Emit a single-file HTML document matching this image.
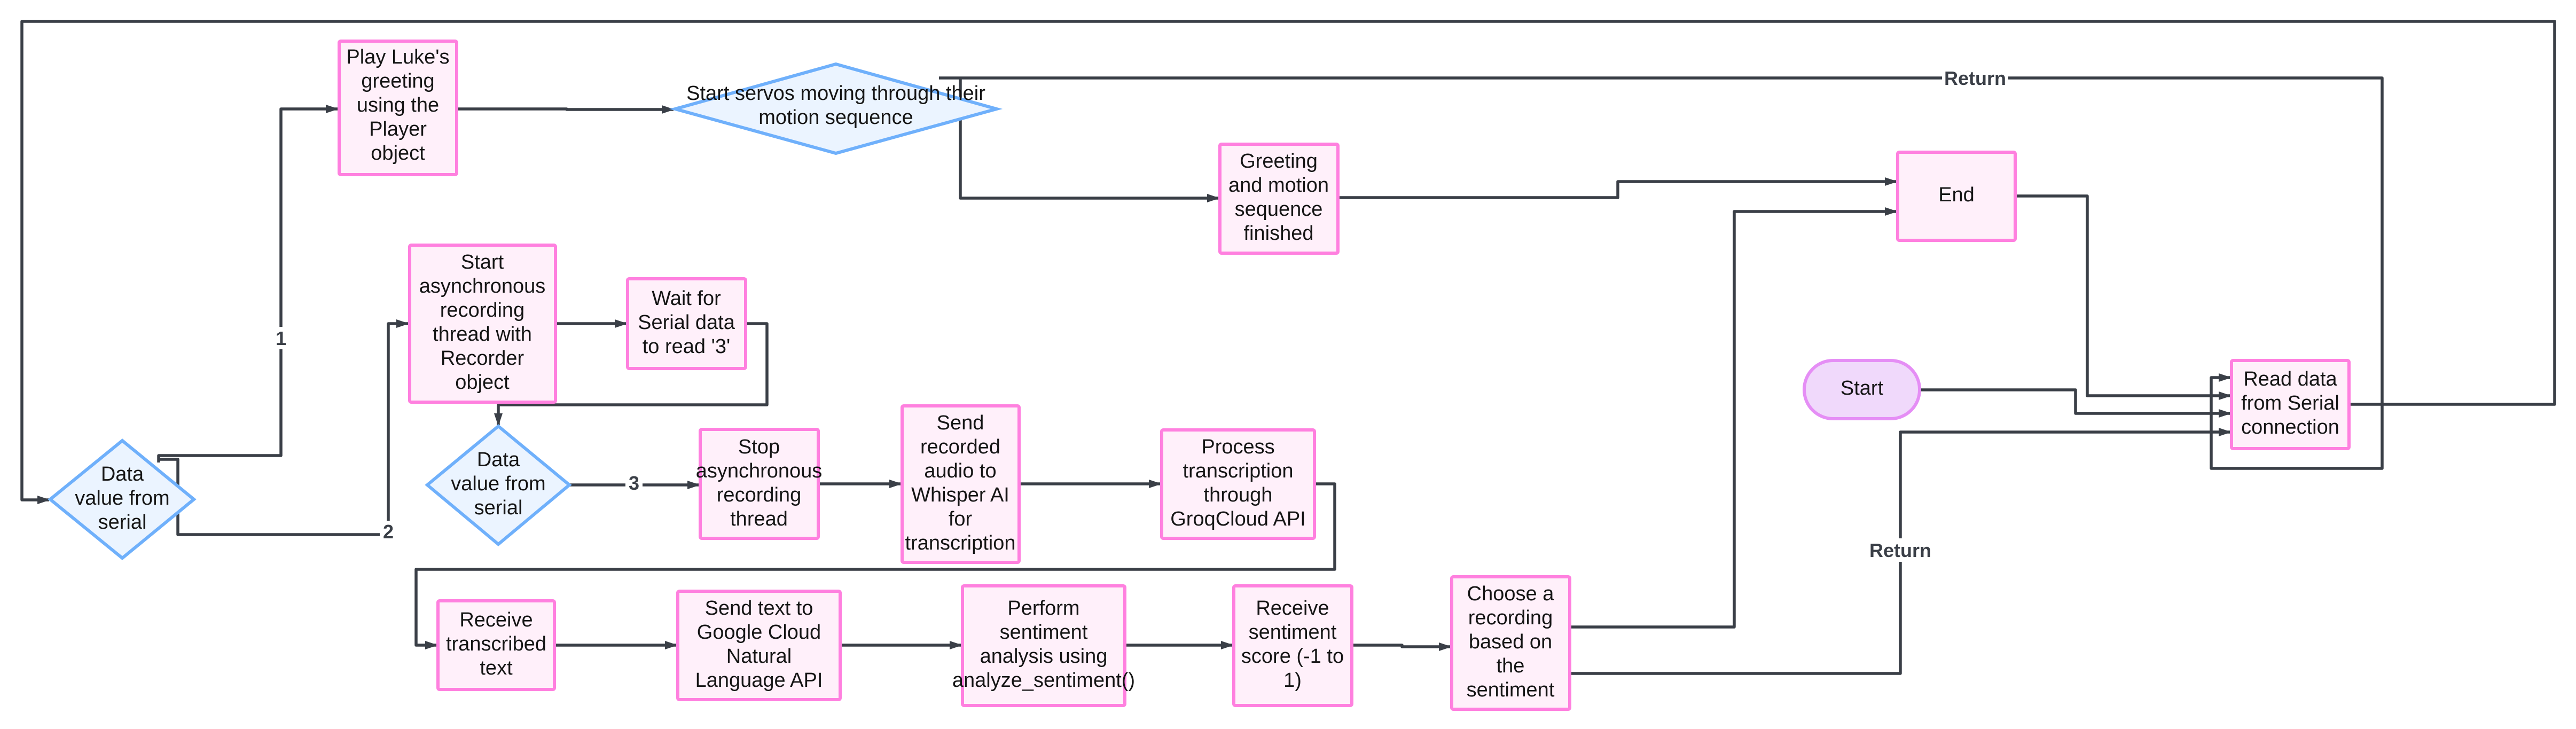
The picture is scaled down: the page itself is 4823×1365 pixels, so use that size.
<!DOCTYPE html>
<html><head><meta charset="utf-8"><style>
html,body{margin:0;padding:0;background:#fff;}
svg{display:block;}
text{font-family:"Liberation Sans",sans-serif;font-size:38px;fill:#151515;text-anchor:middle;transform:translate(0px,-3px);}
.lbl{font-weight:bold;fill:#3a3f47;font-size:36px;transform:none;}
.b{fill:#fff0fa;stroke:#ff80df;stroke-width:6;}
.d{fill:#ebf4ff;stroke:#6fb0fb;stroke-width:6;}
.l{fill:none;stroke:#3a3f47;stroke-width:5.5;stroke-linejoin:round;}
</style></head><body>
<svg width="4823" height="1365" viewBox="0 0 4823 1365" xmlns="http://www.w3.org/2000/svg">
<defs><marker id="a" markerUnits="userSpaceOnUse" markerWidth="24" markerHeight="18" refX="22" refY="8" orient="auto"><path d="M0,0 L24,8 L0,16 z" fill="#3a3f47"/></marker></defs>

<path class="l" d="M4400,757 H4783 V40 H41 V936 H92" marker-end="url(#a)"/>
<path class="l" d="M297,866 V853 H526 V204 H632" marker-end="url(#a)"/>
<path class="l" d="M297,860 H333 V1001 H727 V606 H764" marker-end="url(#a)"/>
<path class="l" d="M855,204 H1061 V205 H1261" marker-end="url(#a)"/>
<path class="l" d="M1758,146 H4460 V877 H4140 V707 H4176" marker-end="url(#a)"/>
<path class="l" d="M1798,148 V371 H2282" marker-end="url(#a)"/>
<path class="l" d="M1040,606 H1173" marker-end="url(#a)"/>
<path class="l" d="M1396,606 H1436 V758 H933 V796" marker-end="url(#a)"/>
<path class="l" d="M1066,908 H1309" marker-end="url(#a)"/>
<path class="l" d="M1532,906 H1687" marker-end="url(#a)"/>
<path class="l" d="M1908,906 H2173" marker-end="url(#a)"/>
<path class="l" d="M2461,906 H2499 V1066 H779 V1208 H818" marker-end="url(#a)"/>
<path class="l" d="M1038,1208 H1267" marker-end="url(#a)"/>
<path class="l" d="M1573,1208 H1800" marker-end="url(#a)"/>
<path class="l" d="M2106,1208 H2308" marker-end="url(#a)"/>
<path class="l" d="M2531,1208 H2625 V1211 H2716" marker-end="url(#a)"/>
<path class="l" d="M2505,370 H3029 V340 H3551" marker-end="url(#a)"/>
<path class="l" d="M2939,1174 H3247 V396 H3551" marker-end="url(#a)"/>
<path class="l" d="M3773,367 H3908 V741 H4176" marker-end="url(#a)"/>
<path class="l" d="M3594,730 H3886 V774 H4176" marker-end="url(#a)"/>
<path class="l" d="M2939,1261 H3558 V809 H4176" marker-end="url(#a)"/>

<rect x="510" y="612" width="32" height="42" fill="#fff"/><text class="lbl" x="526" y="646">1</text>
<rect x="711" y="975" width="32" height="42" fill="#fff"/><text class="lbl" x="727" y="1008">2</text>
<rect x="1171" y="884" width="32" height="42" fill="#fff"/><text class="lbl" x="1187" y="917">3</text>
<rect x="3636" y="126" width="124" height="42" fill="#fff"/><text class="lbl" x="3698" y="159">Return</text>
<rect x="3496" y="1008" width="124" height="44" fill="#fff"/><text class="lbl" x="3558" y="1043">Return</text>

<rect class="b" x="635" y="77" width="220" height="250" rx="3"/>
<text x="745" y="122">Play Luke's</text><text x="745" y="167">greeting</text><text x="745" y="212">using the</text><text x="745" y="257">Player</text><text x="745" y="302">object</text>

<polygon class="d" points="1264,204 1565,120 1866,204 1565,287"/>
<text x="1565" y="190">Start servos moving through their</text><text x="1565" y="235">motion sequence</text>

<rect class="b" x="2284" y="270" width="221" height="204" rx="3"/>
<text x="2394" y="317">Greeting</text><text x="2394" y="362">and motion</text><text x="2394" y="407">sequence</text><text x="2394" y="452">finished</text>

<rect class="b" x="3553" y="285" width="220" height="165" rx="3"/>
<text x="3663" y="380">End</text>

<rect class="b" x="767" y="459" width="273" height="294" rx="3"/>
<text x="903" y="506">Start</text><text x="903" y="551">asynchronous</text><text x="903" y="596">recording</text><text x="903" y="641">thread with</text><text x="903" y="686">Recorder</text><text x="903" y="731">object</text>

<rect class="b" x="1175" y="522" width="221" height="168" rx="3"/>
<text x="1285" y="574">Wait for</text><text x="1285" y="619">Serial data</text><text x="1285" y="664">to read '3'</text>

<polygon class="d" points="94,935 229,825 363,935 229,1045"/>
<text x="229" y="903">Data</text><text x="229" y="948">value from</text><text x="229" y="993">serial</text>

<polygon class="d" points="800,908 933,798 1066,908 933,1019"/>
<text x="933" y="876">Data</text><text x="933" y="921">value from</text><text x="933" y="966">serial</text>

<rect class="b" x="1311" y="804" width="221" height="204" rx="3"/>
<text x="1421" y="852">Stop</text><text x="1421" y="897">asynchronous</text><text x="1421" y="942">recording</text><text x="1421" y="987">thread</text>

<rect class="b" x="1689" y="760" width="219" height="293" rx="3"/>
<text x="1798" y="807">Send</text><text x="1798" y="852">recorded</text><text x="1798" y="897">audio to</text><text x="1798" y="942">Whisper AI</text><text x="1798" y="987">for</text><text x="1798" y="1032">transcription</text>

<rect class="b" x="2175" y="805" width="286" height="203" rx="3"/>
<text x="2318" y="852">Process</text><text x="2318" y="897">transcription</text><text x="2318" y="942">through</text><text x="2318" y="987">GroqCloud API</text>

<rect class="b" x="820" y="1125" width="218" height="166" rx="3"/>
<text x="929" y="1176">Receive</text><text x="929" y="1221">transcribed</text><text x="929" y="1266">text</text>

<rect class="b" x="1269" y="1107" width="304" height="203" rx="3"/>
<text x="1421" y="1154">Send text to</text><text x="1421" y="1199">Google Cloud</text><text x="1421" y="1244">Natural</text><text x="1421" y="1289">Language API</text>

<rect class="b" x="1802" y="1097" width="304" height="224" rx="3"/>
<text x="1954" y="1154">Perform</text><text x="1954" y="1199">sentiment</text><text x="1954" y="1244">analysis using</text><text x="1954" y="1289">analyze_sentiment()</text>

<rect class="b" x="2310" y="1097" width="221" height="224" rx="3"/>
<text x="2420" y="1154">Receive</text><text x="2420" y="1199">sentiment</text><text x="2420" y="1244">score (-1 to</text><text x="2420" y="1289">1)</text>

<rect class="b" x="2718" y="1080" width="221" height="248" rx="3"/>
<text x="2828" y="1127">Choose a</text><text x="2828" y="1172">recording</text><text x="2828" y="1217">based on</text><text x="2828" y="1262">the</text><text x="2828" y="1307">sentiment</text>

<rect x="3378" y="675" width="216" height="109" rx="54" fill="#f0d9fb" stroke="#e58ef5" stroke-width="6"/>
<text x="3486" y="742">Start</text>

<rect class="b" x="4178" y="675" width="220" height="165" rx="3"/>
<text x="4288" y="725">Read data</text><text x="4288" y="770">from Serial</text><text x="4288" y="815">connection</text>
</svg>
</body></html>
